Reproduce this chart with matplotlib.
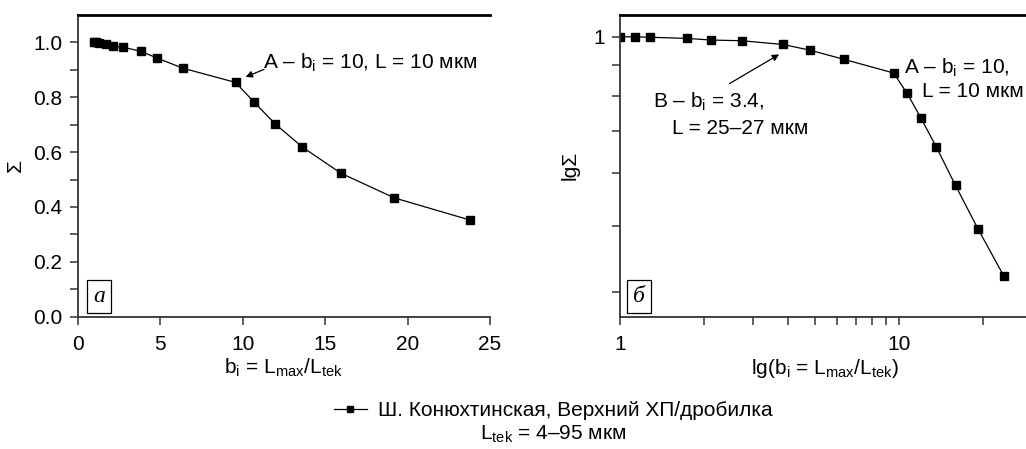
import numpy as np
import matplotlib.pyplot as plt
from matplotlib.lines import Line2D

plt.rcParams['font.family'] = ['Liberation Sans', 'DejaVu Sans']
plt.rcParams['mathtext.fontset'] = 'custom'
plt.rcParams['mathtext.rm'] = 'Liberation Sans'

# data
b = np.array([1.0, 1.13, 1.28, 1.74, 2.12, 2.73, 3.85, 4.81, 6.37,
              9.57, 10.7, 11.97, 13.63, 15.96, 19.2, 23.8])
sigma = np.array([1.0, 1.0, 0.998, 0.993, 0.986, 0.983, 0.967, 0.943, 0.906,
                  0.854, 0.782, 0.703, 0.618, 0.523, 0.433, 0.352])
left_yticks = [0.0, 0.2, 0.4, 0.6, 0.8, 1.0]
left_xticks = [0, 5, 10, 15, 20, 25]
right_minor_y = [0.884, 0.774, 0.662, 0.551, 0.438, 0.328]

legend_label = 'Ш. Конюхтинская, Верхний ХП/дробилка'
note = r'L$_\mathregular{tek}$ = 4–95 мкм'

fs = 15
fig = plt.figure(figsize=(10.26, 4.49), dpi=100)
ax1 = fig.add_axes([0.0757, 0.2947, 0.4019, 0.672])
ax2 = fig.add_axes([0.6043, 0.2947, 0.3957 + 0.003, 0.672])

for ax in (ax1, ax2):
    ax.plot(b, sigma, color='black', lw=0.9, marker='s', ms=5.5)
    ax.spines['right'].set_visible(False)
    ax.spines['top'].set_linewidth(2.0)
    for s in ('left', 'bottom'):
        ax.spines[s].set_linewidth(1.3)
        ax.spines[s].set_color('#333333')
    ax.tick_params(which='both', direction='out', length=6, width=1.1,
                   color='#333333', labelsize=fs, pad=5)
    ax.tick_params(axis='x', pad=7)

# left panel
ax1.set_xlim(0, 25)
ax1.set_ylim(0, 1.1)
ax1.set_xticks(left_xticks)
ax1.set_yticks(left_yticks)
ax1.set_yticks(np.arange(0.1, 1.1, 0.2), minor=True)
ax1.yaxis.set_major_formatter(plt.FormatStrFormatter('%.1f'))
ax1.set_xlabel(r'b$_\mathregular{i}$ = L$_\mathregular{max}$/L$_\mathregular{tek}$',
               fontsize=fs, labelpad=2)
ax1.set_ylabel('Σ', fontsize=fs, labelpad=6)
ax1.annotate('', xy=(0.401, 0.791), xycoords='axes fraction',
             xytext=(0.458, 0.823), textcoords='axes fraction',
             arrowprops=dict(arrowstyle='-|>', color='black', lw=0.9,
                             mutation_scale=10))
ax1.text(0.449, 0.841, r'A – b$_\mathregular{i}$ = 10, L = 10 мкм',
         transform=ax1.transAxes, fontsize=fs, va='center', ha='left')
ax1.text(0.052, 0.067, 'a', transform=ax1.transAxes, fontsize=17,
         family='Liberation Serif', style='italic', ha='center', va='center',
         bbox=dict(boxstyle='square,pad=0.25', fc='white', ec='black', lw=0.9))

# right panel
ax2.set_xscale('log')
ax2.set_yscale('log')
ax2.set_xlim(1, 29.3)
ax2.set_ylim(0.295, 1.10)
ax2.set_xticks([1, 10])
ax2.set_xticklabels(['1', '10'])
ax2.set_yticks([1])
ax2.set_yticklabels(['1'])
ax2.set_yticks(right_minor_y, minor=True)
ax2.yaxis.set_minor_formatter(plt.NullFormatter())
ax2.set_xlabel(r'lg(b$_\mathregular{i}$ = L$_\mathregular{max}$/L$_\mathregular{tek}$)',
               fontsize=fs, labelpad=2)
ax2.set_ylabel('lgΣ', fontsize=fs, labelpad=10)
ax2.annotate('', xy=(0.395, 0.874), xycoords='axes fraction',
             xytext=(0.262, 0.768), textcoords='axes fraction',
             arrowprops=dict(arrowstyle='-|>', color='black', lw=0.9,
                             mutation_scale=10))
ax2.text(0.081, 0.712, r'B – b$_\mathregular{i}$ = 3.4,', transform=ax2.transAxes,
         fontsize=fs, va='center', ha='left')
ax2.text(0.126, 0.625, 'L = 25–27 мкм', transform=ax2.transAxes,
         fontsize=fs, va='center', ha='left')
ax2.text(0.695, 0.824, r'A – b$_\mathregular{i}$ = 10,', transform=ax2.transAxes,
         fontsize=fs, va='center', ha='left')
ax2.text(0.738, 0.745, 'L = 10 мкм', transform=ax2.transAxes,
         fontsize=fs, va='center', ha='left')
ax2.text(0.046, 0.067, 'б', transform=ax2.transAxes, fontsize=17,
         family='Liberation Serif', style='italic', ha='center', va='center',
         bbox=dict(boxstyle='square,pad=0.25', fc='white', ec='black', lw=0.9))

handle = Line2D([], [], color='black', lw=0.9, marker='s', ms=5)
fig.legend([handle], [legend_label], loc='center', bbox_to_anchor=(0.539, 0.085),
           frameon=False, fontsize=fs, handlelength=1.6, handletextpad=0.5)
fig.text(0.539, 0.034, note, ha='center', va='center', fontsize=fs)

fig.savefig('out.png', dpi=100)
